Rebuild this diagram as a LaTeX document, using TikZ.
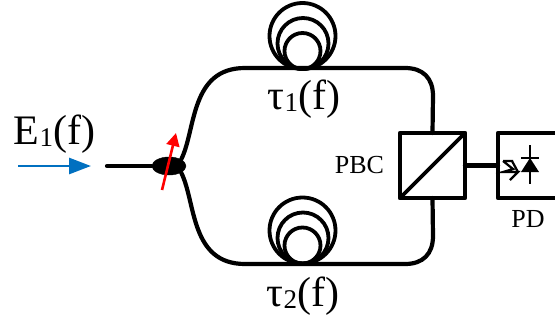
\documentclass[tikz,border=0pt]{standalone}
\usepackage{fontspec}
\setmainfont{Liberation Serif}
\usetikzlibrary{shapes.geometric,arrows.meta}
\definecolor{inputblue}{RGB}{0,112,192}
\newcommand{\lowsub}[1]{\raisebox{-2pt}{\fontsize{27}{27}\selectfont #1}}
\tikzset{
	fibre/.style={line width=4.2pt, line cap=round},
	coil/.style={line width=3.8pt},
	box/.style={draw, line width=4.2pt, line join=round, inner sep=0pt, outer sep=0pt, minimum size=65pt},
	biglabel/.style={font=\fontsize{42}{42}\selectfont, inner sep=0pt},
	smalllabel/.style={font=\fontsize{26}{26}\selectfont, inner sep=0pt},
}
\begin{document}
\begin{tikzpicture}[x=1pt, y=-1pt]
	\useasboundingbox (0, 0) rectangle (555, 322);
	% Splitter und Kasten
	\node [draw, fill, ellipse, inner sep=0pt, minimum width=34pt, minimum height=18pt] (splitter) at (169, 166) {};
	\node [box] (pbc) at (432.5, 165.5) {};
	\node [box] (pd) at (530.5, 165.5) {};
	\coordinate (fibrein) at (107, 166);
	\draw [line width=3.8pt, line cap=round] (pbc.south west) -- (pbc.north east);
	% Linien
	\draw [fibre] (fibrein) -- (splitter);
	\draw [fibre] (splitter.north east) .. controls (196, 130) and (190, 68) .. (245, 68) -- (405, 68) .. controls (423, 68) and (433, 78) .. (433, 96) -- (pbc.north);
	\draw [fibre] (splitter.south east) .. controls (196, 202) and (190, 264) .. (245, 264) -- (405, 264) .. controls (423, 264) and (433, 254) .. (433, 236) -- (pbc.south);
	\draw [fibre] (pbc.east) -- (pd.west);
	% Obere Spule
	\begin{scope}[coil]
		\draw (302.5, 36) circle (33);
		\draw (303, 43.5) circle (25.5);
		\draw (302.5, 51) circle (18);
	\end{scope}
	% Untere Spule
	\begin{scope}[coil]
		\draw (302.5, 230.5) circle (33);
		\draw (303, 238) circle (25.5);
		\draw (302.5, 245.5) circle (18);
	\end{scope}
	% Pfeile
	\coordinate (redstart) at (162, 190);
	\coordinate (redend) at (176, 133);
	\coordinate (bluestart) at (18, 166);
	\coordinate (blueend) at (91, 166);
	\draw [red, line width=2.6pt, -{Triangle[length=13pt, width=13pt]}] (redstart) -- (redend);
	\draw [inputblue, line width=2.8pt, -{Triangle[length=22pt, width=16pt]}] (bluestart) -- (blueend);
	% Fotodiode
	\draw [line width=2.6pt] (530, 145) -- (530, 184);
	\draw [line width=2.6pt] (521, 158) -- (539, 158);
	\fill (530, 158) -- (539, 172) -- (521, 172) -- cycle;
	\draw [line width=2.2pt] (503, 161) -- (513, 161) (503, 161) -- (513, 169) -- (503, 172) -- (518, 172) -- (510, 180) (518, 172) -- (512, 161);
	% Beschriftung
	\node [biglabel] (elabel) at (54.5, 134) {E\lowsub{1}(f)};
	\node [biglabel] (taulabela) at (304, 99) {τ\lowsub{1}(f)};
	\node [biglabel] (taulabelb) at (303, 296) {τ\lowsub{2}(f)};
	\node [smalllabel] (pbclabel) at (359.5, 165) {PBC};
	\node [smalllabel] (pdlabel) at (528, 219) {PD};
\end{tikzpicture}
\end{document}
